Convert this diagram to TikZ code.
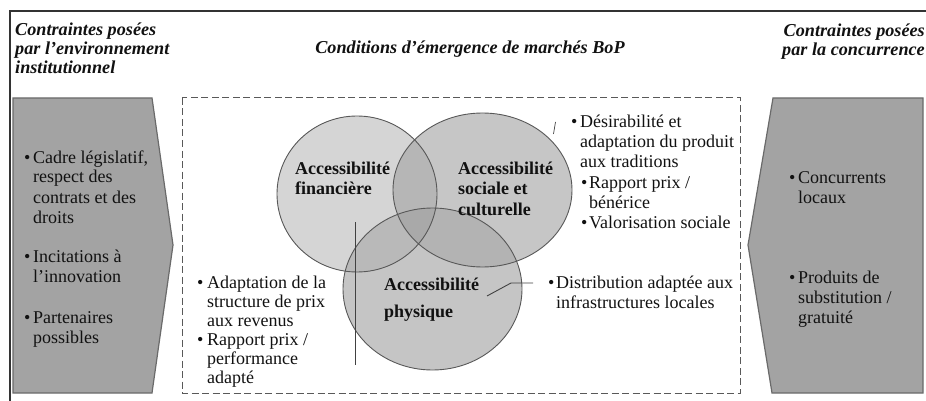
\documentclass[tikz,border=0pt]{standalone}
\usepackage{fontspec}
\setmainfont{Liberation Serif}
\definecolor{ink}{HTML}{111111}
\definecolor{boxfill}{HTML}{A3A3A3}
\definecolor{boxline}{HTML}{6A6A6A}
\definecolor{ringline}{HTML}{585858}
\definecolor{finfill}{HTML}{D5D5D5}
\definecolor{socfill}{HTML}{C6C6C6}
\definecolor{phyfill}{HTML}{C5C5C5}
\definecolor{fsfill}{HTML}{B6B6B6}
\definecolor{fpfill}{HTML}{B9B9B9}
\definecolor{spfill}{HTML}{B3B3B3}
\definecolor{allfill}{HTML}{A9A9A9}
% bulleted list: bullet column, then the lines of text
\newcommand\blist[2][9pt]{\begin{tabular}[t]{@{}p{#1}@{}l@{}}#2\end{tabular}}
\newcommand\plainlines[1]{\begin{tabular}[t]{@{}l@{}}#1\end{tabular}}
\newcommand\rightlines[1]{\begin{tabular}[t]{@{}r@{}}#1\end{tabular}}
\begin{document}
\begin{tikzpicture}[x=1pt,y=-1pt,
  txt/.style={font=\fontsize{18}{20}\selectfont, inner sep=0pt, anchor=base west, text=ink},
  ttl/.style={font=\fontsize{18.2}{19}\selectfont\bfseries\itshape, inner sep=0pt, text=ink},
  lbl/.style={font=\fontsize{18}{20}\selectfont\bfseries, inner sep=0pt, anchor=base west, text=ink},
  panel/.style={fill=boxfill, draw=boxline, line width=1.2pt, line join=miter},
  ring/.style={draw=ringline, line width=0.9pt},
  link/.style={draw=ink!80, line width=0.9pt}]
\useasboundingbox (0,0) rectangle (926,401);

% outer frame (top and left rules)
\draw[line width=1.3pt, draw=black!80] (10,401) -- (10,11) -- (926,11);

% headings
\node[ttl, anchor=base west] (ttlL) at (15,36)
  {\plainlines{Contraintes posées\\par l’environnement\\institutionnel}};
\node[ttl, anchor=base] (ttlC) at (470,54)
  {Conditions d’émergence de marchés BoP};
\node[ttl, anchor=base east] (ttlR) at (925,37)
  {\rightlines{Contraintes posées\\par la concurrence}};

% side panels
\filldraw[panel] (13,98) -- (152,98) -- (173,245) -- (152,393) -- (13,393) -- cycle;
\filldraw[panel] (773,98) -- (923,98) -- (923,393) -- (772,393) -- (748,245) -- cycle;

% dashed frame around the conditions
\draw[dash pattern=on 7pt off 3.5pt, draw=black!65, line width=1pt]
  (182,98) rectangle (740,393);

% three overlapping ellipses
\def\finE{(357,194) ellipse [x radius=80, y radius=78]}
\def\socE{(482.5,190) ellipse [x radius=89.5, y radius=77]}
\def\phyE{(432.5,289) ellipse [x radius=89.5, y radius=81]}
\fill[finfill] \finE;
\fill[socfill] \socE;
\fill[phyfill] \phyE;
\begin{scope}
  \clip \finE; \fill[fsfill] \socE;
\end{scope}
\begin{scope}
  \clip \finE; \fill[fpfill] \phyE;
\end{scope}
\begin{scope}
  \clip \socE; \fill[spfill] \phyE;
\end{scope}
\begin{scope}
  \clip \finE; \clip \socE; \fill[allfill] \phyE;
\end{scope}
\draw[ring] \finE;
\draw[ring] \socE;
\draw[ring] \phyE;

% ellipse labels
\node[lbl] (labFin) at (295,175) {\plainlines{Accessibilité\\financière}};
\node[lbl] (labSoc) at (458,175) {\plainlines{Accessibilité\\sociale et\\culturelle}};
\node[lbl, font=\fontsize{18}{27}\selectfont\bfseries] (labPhy) at (384,290)
  {\plainlines{Accessibilité\\physique}};

% left panel items
\node[txt] (l1) at (24,163) {\blist{\textbullet & Cadre législatif,\\ & respect des\\ & contrats et des\\ & droits}};
\node[txt] (l2) at (24,262) {\blist{\textbullet & Incitations à\\ & l’innovation}};
\node[txt] (l3) at (24,323) {\blist{\textbullet & Partenaires\\ & possibles}};

% right panel items
\node[txt] (r1) at (789,183) {\blist{\textbullet & Concurrents\\ & locaux}};
\node[txt] (r2) at (789,283) {\blist{\textbullet & Produits de\\ & substitution /\\ & gratuité}};

% social and cultural items
\node[txt] (s1) at (571,128) {\blist{\textbullet & Désirabilité et\\ & adaptation du produit\\ & aux traditions}};
\node[txt] (s2) at (581,188) {\blist[8pt]{\textbullet & Rapport prix /\\ & bénérice}};
\node[txt] (s3) at (581,228) {\blist[8pt]{\textbullet & Valorisation sociale}};

% physical items
\node[txt] (p1) at (548,288) {\blist[8pt]{\textbullet & Distribution adaptée aux\\ & infrastructures locales}};

% financial items
\node[txt, font=\fontsize{18}{19}\selectfont] (f1) at (197,288)
  {\blist[10pt]{\textbullet & Adaptation de la\\ & structure de prix\\ & aux revenus\\ \textbullet & Rapport prix /\\ & performance\\ & adapté}};

% connectors from the ellipses to their items
\coordinate (finTop) at (355,222);
\coordinate (finBot) at (355,365);
\draw[link] (finTop) -- (finBot);
\coordinate (phyIn) at (487,296);
\coordinate (phyBend) at (511,283);
\coordinate (phyOut) at (533,283);
\draw[link] (phyIn) -- (phyBend) -- (phyOut);
\coordinate (socA) at (555.5,122);
\coordinate (socB) at (553.5,134);
\draw[link, line width=0.7pt] (socA) -- (socB);
\end{tikzpicture}
\end{document}
